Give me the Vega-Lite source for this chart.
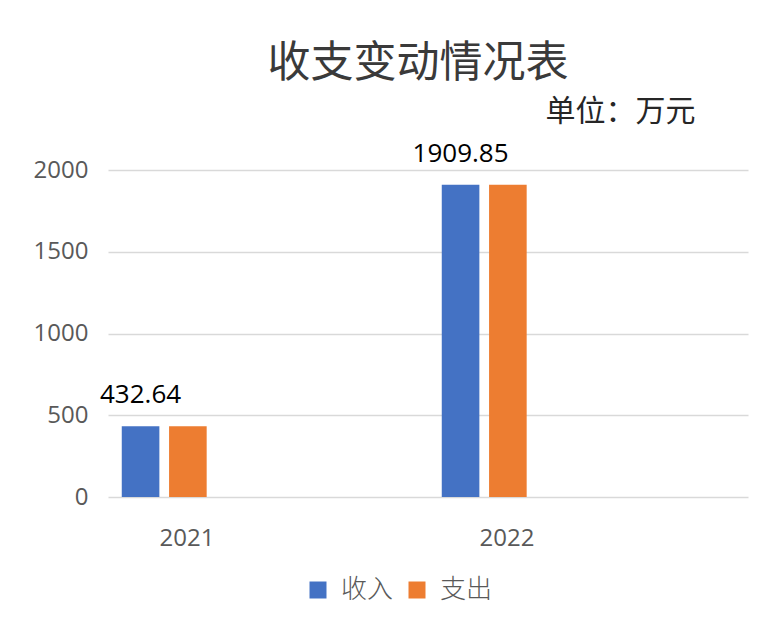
{
  "$schema": "https://vega.github.io/schema/vega-lite/v6.json",
  "width": 640,
  "height": 327,
  "autosize": {"type": "none"},
  "padding": {"left": 108, "top": 170, "right": 25, "bottom": 128},
  "background": "white",
  "config": {"view": {"stroke": null}},
  "title": {
    "text": "收支变动情况表",
    "anchor": "middle",
    "frame": "group",
    "dx": -10,
    "offset": 10,
    "font": "Noto Sans CJK SC",
    "fontSize": 43,
    "fontWeight": "normal",
    "color": "#3a3a3a"
  },
  "data": {
    "values": [
      {"year": "2021", "type": "收入", "value": 432.64},
      {"year": "2021", "type": "支出", "value": 432.64},
      {"year": "2022", "type": "收入", "value": 1909.85},
      {"year": "2022", "type": "支出", "value": 1909.85}
    ]
  },
  "encoding": {
    "x": {
      "field": "year",
      "type": "nominal",
      "scale": {"paddingInner": 0, "paddingOuter": 0},
      "axis": {
        "title": null,
        "labelAngle": 0,
        "labelOffset": -81,
        "labelPadding": 29,
        "labelFont": "Open Sans",
        "labelFontSize": 24,
        "labelColor": "#595959",
        "ticks": false,
        "domain": false,
        "grid": false
      }
    },
    "xOffset": {
      "field": "type",
      "type": "nominal",
      "scale": {
        "domain": ["收入", "支出", "s3", "s4", "s5", "s6"],
        "paddingInner": 0.205,
        "paddingOuter": 0.485,
        "align": 0.3
      }
    },
    "y": {
      "field": "value",
      "type": "quantitative",
      "scale": {"domain": [0, 2000]},
      "axis": {
        "title": "单位：万元",
        "titleAngle": 0,
        "titleAlign": "right",
        "titleBaseline": "alphabetic",
        "titleX": 587,
        "titleY": -50,
        "titleFont": "Noto Sans CJK SC",
        "titleFontSize": 30,
        "titleFontWeight": "normal",
        "titleColor": "#262626",
        "values": [0, 500, 1000, 1500, 2000],
        "format": "d",
        "ticks": false,
        "domain": false,
        "labelPadding": 20,
        "labelFont": "Open Sans",
        "labelFontSize": 24,
        "labelColor": "#595959",
        "gridColor": "#d9d9d9",
        "gridWidth": 1.5
      }
    }
  },
  "layer": [
    {
      "mark": {"type": "bar"},
      "encoding": {
        "color": {
          "field": "type",
          "type": "nominal",
          "scale": {"domain": ["收入", "支出"], "range": ["#4472C4", "#ED7D31"]},
          "legend": {
            "title": null,
            "orient": "none",
            "direction": "horizontal",
            "legendX": 197,
            "legendY": 407,
            "symbolType": "square",
            "symbolSize": 289,
            "symbolStrokeWidth": 0,
            "labelFont": "Noto Sans CJK SC",
            "labelFontSize": 26,
            "labelFontWeight": 300,
            "labelColor": "#595959",
            "labelOffset": 10,
            "columnPadding": 10
          }
        }
      }
    },
    {
      "transform": [{"filter": "datum.type == '收入'"}],
      "mark": {
        "type": "text",
        "baseline": "alphabetic",
        "dy": -23,
        "font": "Open Sans",
        "fontSize": 26,
        "color": "#000000"
      },
      "encoding": {
        "text": {"field": "value", "type": "quantitative", "format": ".2f"}
      }
    }
  ]
}
